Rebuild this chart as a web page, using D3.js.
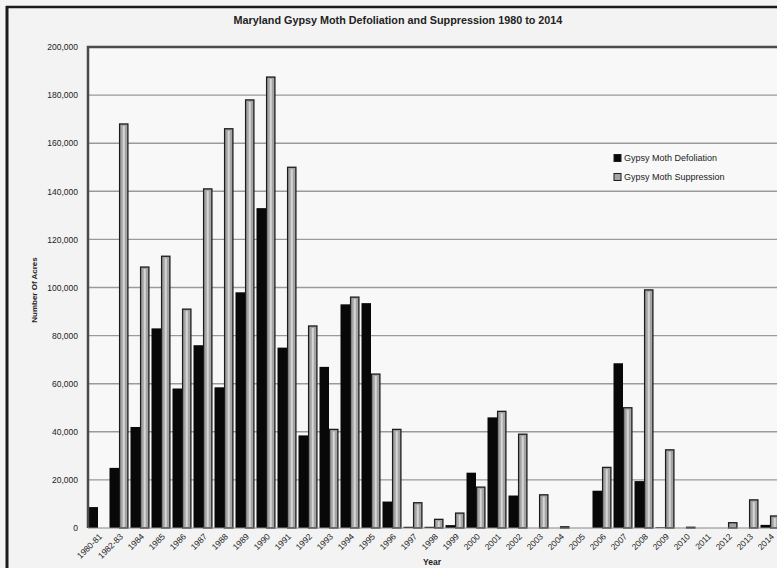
<!DOCTYPE html>
<html>
  <head>
    <meta charset="utf-8">
    <script src="https://d3js.org/d3.v7.min.js"></script>
    <style>
      body { margin: 0; background: #f2f2f2; }
      text { font-family: "Liberation Sans", Arial, sans-serif; fill: #222; }
    </style>
  </head>
<body>
  <script type="text/javascript">
    "use strict";
    // categories and acres
    var years = ["1980-81", "1982-83", "1984", "1985", "1986", "1987", "1988", "1989",
                 "1990", "1991", "1992", "1993", "1994", "1995", "1996", "1997", "1998",
                 "1999", "2000", "2001", "2002", "2003", "2004", "2005", "2006", "2007",
                 "2008", "2009", "2010", "2011", "2012", "2013", "2014"];
    var defoliation = [8700, 25000, 42000, 83000, 58000, 76000, 58500, 98000,
                       133000, 75000, 38500, 67000, 93000, 93500, 11000, 500, 500,
                       1200, 23000, 46000, 13500, 0, 0, 0, 15500, 68500,
                       19500, 300, 0, 0, 0, 0, 1300];
    var suppression = [0, 168000, 108500, 113000, 91000, 141000, 166000, 178000,
                       187500, 150000, 84000, 41000, 96000, 64000, 41000, 10500, 3600,
                       6200, 17000, 48500, 39000, 13800, 500, 0, 25200, 50000,
                       99000, 32500, 300, 0, 2200, 11700, 5000];
    var yTicks = [0, 20000, 40000, 60000, 80000, 100000, 120000, 140000, 160000, 180000, 200000];
    var seriesNames = ["Gypsy Moth Defoliation", "Gypsy Moth Suppression"];

    (function() {
    var W = 777, H = 568;
    var pLeft = 88, pTop = 47, pBottom = 528, pRight = 781;

    var svg = d3.select("body").append("svg")
        .attr("width", W).attr("height", H);

    svg.append("rect").attr("width", W).attr("height", H).attr("fill", "#f3f3f3");
    // scan frame
    svg.append("line").attr("x1", 6).attr("x2", W).attr("y1", 7).attr("y2", 7)
        .attr("stroke", "#1a1a1a").attr("stroke-width", 2.5);
    svg.append("line").attr("x1", 7).attr("x2", 7).attr("y1", 6).attr("y2", H)
        .attr("stroke", "#1a1a1a").attr("stroke-width", 3);

    svg.append("rect").attr("x", pLeft).attr("y", pTop)
        .attr("width", pRight - pLeft).attr("height", pBottom - pTop)
        .attr("fill", "#f8f8f8");

    var x0 = d3.scaleBand().domain(years).range([pLeft, pRight]);
    var x1 = d3.scaleBand().domain([0, 1]).range([0.5, x0.bandwidth() - 1.5]);
    var y = d3.scaleLinear().domain([0, 200000]).range([pBottom, pTop]);

    // gridlines
    svg.append("g").selectAll("line").data(yTicks.slice(1, -1)).join("line")
        .attr("x1", pLeft).attr("x2", pRight)
        .attr("y1", function(d) { return y(d); }).attr("y2", function(d) { return y(d); })
        .attr("stroke", "#9a9a9a").attr("stroke-width", 1.4);

    // y axis labels
    var yAxis = d3.axisLeft(y).tickValues(yTicks).tickSize(0).tickPadding(10)
        .tickFormat(d3.format(","));
    var yg = svg.append("g").attr("transform", "translate(" + pLeft + ",0)").call(yAxis);
    yg.select(".domain").remove();
    yg.selectAll("text").attr("font-size", 8.5).attr("fill", "#444");

    // bars
    var groups = svg.append("g").selectAll("g").data(years).join("g")
        .attr("transform", function(d) { return "translate(" + x0(d) + ",0)"; });

    groups.append("rect")
        .attr("x", x1(0)).attr("width", x1.bandwidth())
        .attr("y", function(d, i) { return y(defoliation[i]); })
        .attr("height", function(d, i) { return pBottom - y(defoliation[i]); })
        .attr("fill", "#080808");

    groups.filter(function(d, i) { return suppression[i] > 0; }).append("rect")
        .attr("x", function() { return x1(1) + 0.6; }).attr("width", x1.bandwidth() - 1.2)
        .attr("y", function(d) { return y(suppression[years.indexOf(d)]); })
        .attr("height", function(d) { return pBottom - y(suppression[years.indexOf(d)]); })
        .attr("fill", "#a4a4a4").attr("stroke", "#1c1c1c").attr("stroke-width", 1.3);
    groups.filter(function(d, i) { return suppression[i] > 3000; }).append("line")
        .attr("x1", function() { return x1(1) + x1.bandwidth() / 2; })
        .attr("x2", function() { return x1(1) + x1.bandwidth() / 2; })
        .attr("y1", function(d) { return y(suppression[years.indexOf(d)]) + 2; })
        .attr("y2", pBottom - 1)
        .attr("stroke", "#d6d6d6").attr("stroke-width", 2);

    // plot frame (top and left) and baseline
    svg.append("path")
        .attr("d", "M" + pLeft + "," + pBottom + "V" + pTop + "H" + pRight)
        .attr("fill", "none").attr("stroke", "#4a4a4a").attr("stroke-width", 2.5);
    svg.append("line").attr("x1", pLeft).attr("x2", pRight)
        .attr("y1", pBottom).attr("y2", pBottom)
        .attr("stroke", "#888").attr("stroke-width", 1);

    // x axis labels
    svg.append("g").selectAll("text").data(years).join("text")
        .attr("transform", function(d) {
          return "translate(" + (x0(d) + x0.bandwidth() / 2 + 2) + ",535) rotate(-45)";
        })
        .attr("text-anchor", "end").attr("dy", "0.35em")
        .attr("font-size", 8.5).attr("fill", "#333")
        .text(function(d) { return d; });

    // titles
    svg.append("text").attr("x", 398).attr("y", 24).attr("text-anchor", "middle")
        .attr("font-size", 10.8).attr("font-weight", "bold")
        .text("Maryland Gypsy Moth Defoliation and Suppression 1980 to 2014");
    svg.append("text").attr("transform", "translate(37,290) rotate(-90)")
        .attr("text-anchor", "middle").attr("font-size", 8).attr("font-weight", "bold")
        .text("Number Of Acres");
    svg.append("text").attr("x", 432).attr("y", 565).attr("text-anchor", "middle")
        .attr("font-size", 8.5).attr("font-weight", "bold").text("Year");

    // legend
    var legend = svg.append("g").selectAll("g").data(seriesNames).join("g")
        .attr("transform", function(d, i) { return "translate(614," + (158 + i * 19) + ")"; });
    legend.append("rect").attr("x", 0).attr("y", -3.5).attr("width", 7).attr("height", 7)
        .attr("fill", function(d, i) { return i === 0 ? "#080808" : "#a4a4a4"; })
        .attr("stroke", "#1c1c1c").attr("stroke-width", 1);
    legend.append("text").attr("x", 10).attr("dy", "0.35em")
        .attr("font-size", 9).attr("fill", "#333")
        .text(function(d) { return d; });
    })();
  </script>
</body>
</html>
